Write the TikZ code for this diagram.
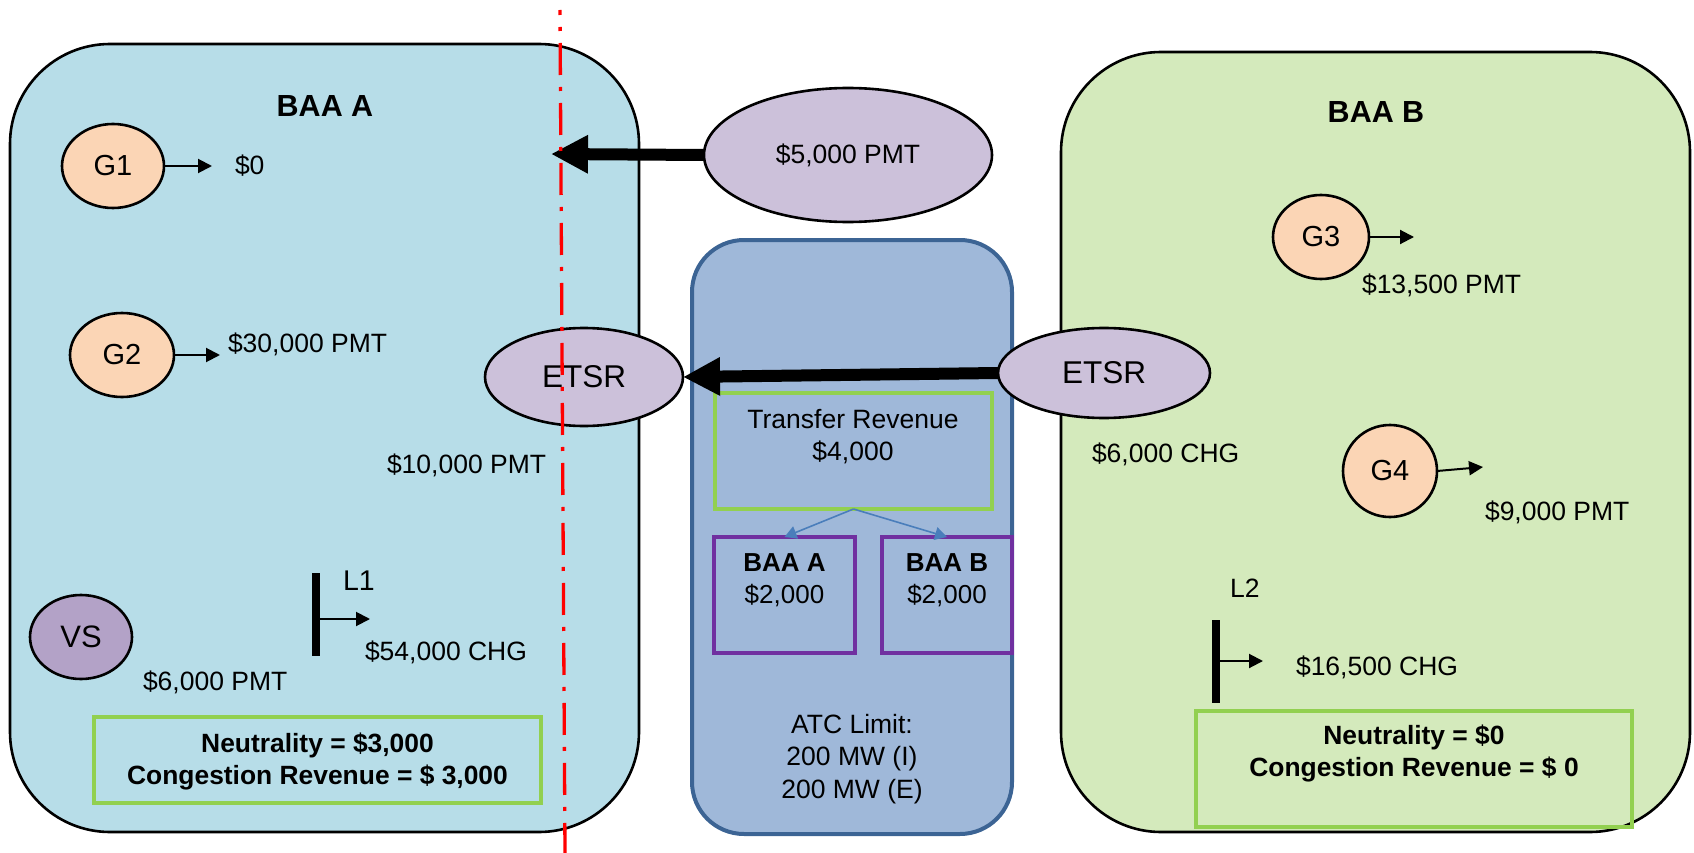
\documentclass[tikz,border=0pt]{standalone}
\usepackage{fontspec}
\setmainfont{Liberation Sans}
\usetikzlibrary{shapes.geometric,arrows.meta}

\definecolor{baaAfill}{HTML}{B7DDE8}
\definecolor{baaBfill}{HTML}{D4EABC}
\definecolor{tiefill}{HTML}{9FB8D9}
\definecolor{tieline}{HTML}{3C6494}
\definecolor{etsrfill}{HTML}{CCC1DA}
\definecolor{vsfill}{HTML}{B3A2C7}
\definecolor{genfill}{HTML}{FBD5B5}
\definecolor{sumline}{HTML}{92D050}
\definecolor{shareline}{HTML}{7030A0}
\definecolor{splitline}{HTML}{4A7EBB}
\definecolor{seamred}{HTML}{FF0000}

\newcommand\setsize[2]{\fontsize{#1}{#2}\selectfont}

\begin{document}
\begin{tikzpicture}[x=1pt,y=-1pt,
  every node/.style={inner sep=0pt,outer sep=0pt},
  areaBox/.style={draw=black,line width=2.6pt,rounded corners=100pt},
  genNode/.style={ellipse,draw=black,line width=2.6pt,fill=genfill,
    font=\setsize{29}{34}},
  etsrNode/.style={ellipse,draw=black,line width=2.6pt,fill=etsrfill},
  valLabel/.style={font=\setsize{26.5}{32}},
  areaTitle/.style={font=\bfseries\setsize{30.5}{36}},
  flowArrow/.style={line width=12pt,-{Triangle[length=37pt,width=36pt]}},
  outArrow/.style={line width=2pt,-{Triangle[length=14pt,width=14pt]}},
  loadBar/.style={line width=8pt},
  sumBox/.style={draw=sumline,line width=3.5pt},
  shareBox/.style={draw=shareline,line width=4pt},
  splitArrow/.style={draw=splitline,line width=1.6pt,
    -{Triangle[length=12pt,width=13pt]}},
  seamLine/.style={draw=seamred,line width=3.3pt,
    dash pattern=on 32pt off 12pt on 4pt off 12pt,dash phase=27pt}]

\useasboundingbox (0,0) rectangle (1694,853);

% balancing areas and the tie between them
\node[areaBox,fill=baaAfill,minimum width=629pt,minimum height=788pt] (areaA) at (324.5,438) {};
\node[areaBox,fill=baaBfill,minimum width=629pt,minimum height=780pt] (areaB) at (1375.5,442) {};
\node[draw=tieline,line width=4pt,fill=tiefill,rounded corners=52pt,
      minimum width=320pt,minimum height=594pt] (tie) at (852,537) {};

\node[areaTitle] (titleA) at (325,106) {BAA A};
\node[areaTitle] (titleB) at (1376,112) {BAA B};

% BAA A resources
\node[genNode,minimum width=102pt,minimum height=84pt] (g1) at (113,166) {G1};
\node[genNode,minimum width=104pt,minimum height=84pt] (g2) at (122,355) {G2};
\node[ellipse,draw=black,line width=2.6pt,fill=vsfill,font=\setsize{31}{36},
      minimum width=102pt,minimum height=84pt] (vs) at (81,637) {VS};

\coordinate (g1tip) at (212,166);
\coordinate (g2tip) at (220,355);
\draw[outArrow] (g1.east) -- (g1tip);
\draw[outArrow] (g2.east) -- (g2tip);

\node[valLabel,anchor=base west] (g1val) at (235,175) {\$0};
\node[valLabel,anchor=base west] (g2val) at (228,352) {\$30,000 PMT};
\node[valLabel,anchor=base west] (etsrAval) at (387,473) {\$10,000 PMT};
\node[valLabel,anchor=base west] (vsval) at (143,690) {\$6,000 PMT};

% load L1
\coordinate (l1top) at (316,573);
\coordinate (l1bot) at (316,656);
\coordinate (l1base) at (320,619);
\coordinate (l1tip) at (370,619);
\draw[loadBar] (l1top) -- (l1bot);
\draw[outArrow] (l1base) -- (l1tip);
\node[valLabel,font=\setsize{28.5}{34},anchor=base west] (l1name) at (343,590) {L1};
\node[valLabel,anchor=base west] (l1val) at (365,660) {\$54,000 CHG};

\node[sumBox,minimum width=447pt,minimum height=86pt] (sumA) at (317.5,760) {};
\node[font=\bfseries\setsize{26.4}{32},align=center] (sumAtext) at (317.5,761)
  {Neutrality = \$3,000\\Congestion Revenue = \$ 3,000};

% BAA B resources
\node[genNode,minimum width=96pt,minimum height=84pt] (g3) at (1321,237) {G3};
\node[genNode,minimum width=94pt,minimum height=92pt] (g4) at (1390,471) {G4};
\coordinate (g3tip) at (1414,237);
\coordinate (g4tip) at (1483,467);
\draw[outArrow] (g3.east) -- (g3tip);
\draw[outArrow] (g4.east) -- (g4tip);
\node[valLabel,anchor=base west] (g3val) at (1362,293) {\$13,500 PMT};
\node[valLabel,anchor=base west] (g4val) at (1485,520) {\$9,000 PMT};
\node[valLabel,anchor=base west] (etsrBval) at (1092,462) {\$6,000 CHG};

% load L2
\coordinate (l2top) at (1216,620);
\coordinate (l2bot) at (1216,703);
\coordinate (l2base) at (1220,661);
\coordinate (l2tip) at (1263,661);
\draw[loadBar] (l2top) -- (l2bot);
\draw[outArrow] (l2base) -- (l2tip);
\node[valLabel,anchor=base west] (l2name) at (1230,597) {L2};
\node[valLabel,anchor=base west] (l2val) at (1296,675) {\$16,500 CHG};

\node[sumBox,minimum width=436pt,minimum height=116pt] (sumB) at (1414,769) {};
\node[font=\bfseries\setsize{26.4}{32},align=center] (sumBtext) at (1414,753)
  {Neutrality = \$0\\Congestion Revenue = \$ 0};

% transfer revenue and its split
\node[sumBox,minimum width=277pt,minimum height=116pt] (transfer) at (853.5,451) {};
\node[valLabel,align=center] (transferText) at (853,437) {Transfer Revenue\\\$4,000};
\node[shareBox,minimum width=141pt,minimum height=116pt] (shareA) at (784.5,595) {};
\node[shareBox,minimum width=130pt,minimum height=116pt] (shareB) at (947,595) {};
\node[valLabel,font=\setsize{26}{32},align=center] (shareAtext) at (784.5,580) {\textbf{BAA A}\\\$2,000};
\node[valLabel,font=\setsize{26}{32},align=center] (shareBtext) at (947,580) {\textbf{BAA B}\\\$2,000};
\draw[splitArrow] (transfer.south) -- (shareA.north);
\draw[splitArrow] (transfer.south) -- (shareB.north);

\node[valLabel,font=\setsize{26.5}{32.5},align=center] (atc) at (852,759)
  {ATC Limit:\\200 MW (I)\\200 MW (E)};

% schedules
\node[etsrNode,font=\setsize{26.5}{32},minimum width=288pt,minimum height=134pt] (pmt) at (848,155) {\$5,000 PMT};
\coordinate (pmtTip) at (551,154);
\draw[flowArrow] (pmt.west) -- (pmtTip);

\node[etsrNode,font=\setsize{31.5}{36},minimum width=198pt,minimum height=98pt] (etsrA) at (584,377) {ETSR};
\node[etsrNode,font=\setsize{31.5}{36},minimum width=212pt,minimum height=90pt] (etsrB) at (1104,373) {ETSR};
\draw[flowArrow] (etsrB.west) -- (etsrA.east);

% boundary line
\coordinate (seamTop) at (560,10);
\coordinate (seamBot) at (565,853);
\draw[seamLine] (seamTop) -- (seamBot);

\end{tikzpicture}
\end{document}
